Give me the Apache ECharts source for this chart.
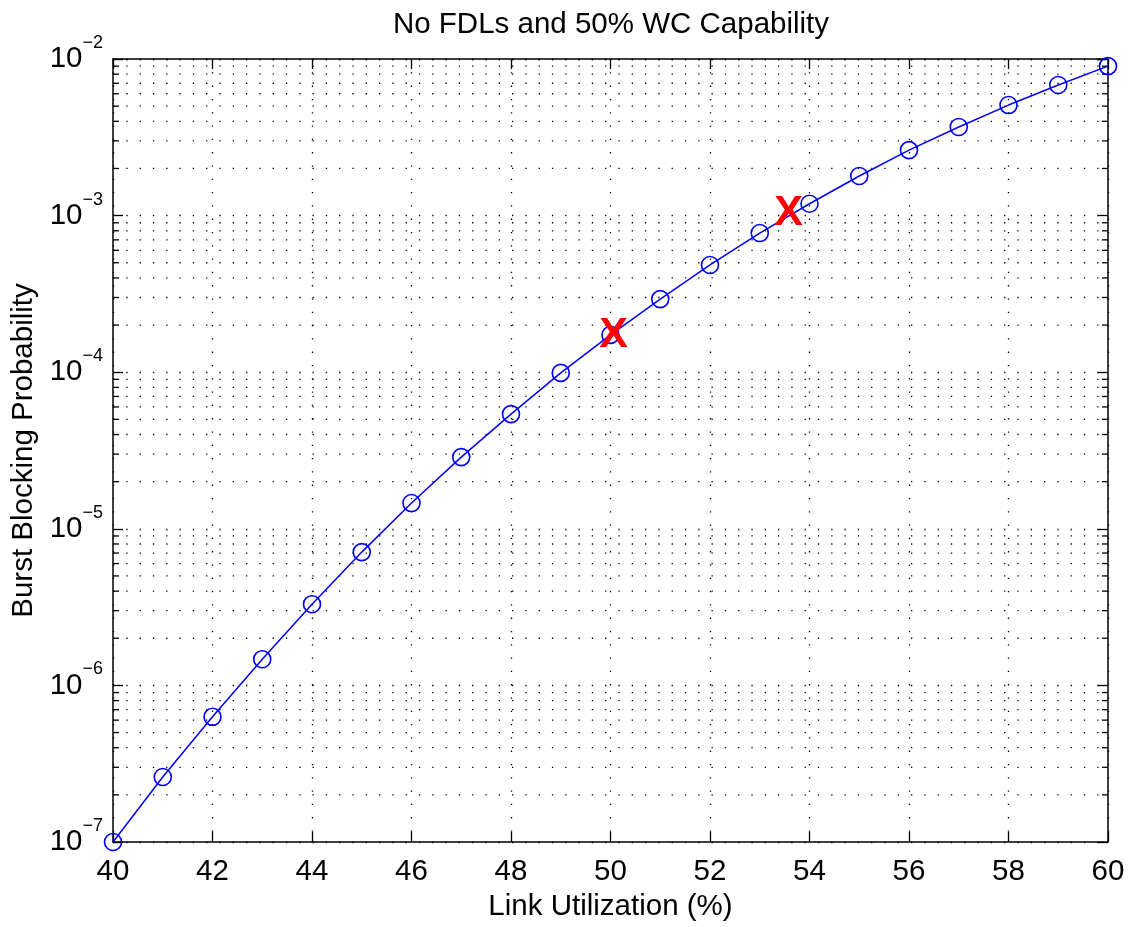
<!DOCTYPE html>
<html>
<head>
<meta charset="utf-8">
<script src="https://cdn.jsdelivr.net/npm/echarts@6/dist/echarts.min.js"></script>
<style>
html,body{margin:0;padding:0;background:#fff;}
#chart{width:1140px;height:927px;}
</style>
</head>
<body>
<div id="chart"></div>
<script>
// ---- data ----
var titleText = 'No FDLs and 50% WC Capability';
var xName = 'Link Utilization (%)';
var yName = 'Burst Blocking Probability';
var utilization = [40,41,42,43,44,45,46,47,48,49,50,51,52,53,54,55,56,57,58,59,60];
var blocking = [1.0e-7, 2.6e-7, 6.3e-7, 1.47e-6, 3.3e-6, 7.1e-6, 1.46e-5, 2.87e-5, 5.4e-5, 9.9e-5,
                1.73e-4, 2.93e-4, 4.84e-4, 7.74e-4, 1.19e-3, 1.79e-3, 2.62e-3, 3.68e-3, 5.08e-3, 6.82e-3, 9.0e-3];
var markX = [50.06, 53.58];
var markY = [1.72e-4, 1.03e-3];
var X_MIN = 40, X_MAX = 60, X_STEP = 2;
var Y_MIN = 1e-7, Y_MAX = 1e-2;
var decadeExps = [-7,-6,-5,-4,-3];
var minorMult = [2,3,4,5,6,7,8,9];

// minor tick values for the log axis
var minorVals = [];
decadeExps.forEach(function(e){ minorMult.forEach(function(m){ minorVals.push([X_MIN, m*Math.pow(10,e)]); }); });

var FONT = '"Liberation Sans", Arial, Helvetica, sans-serif';
var FS = 29.5;
var DOT = [1.3, 12];

var chart = echarts.init(document.getElementById('chart'), null, {renderer:'canvas'});

function yLabel(v){
  var e = Math.round(Math.log10(v));
  return '{b|10}{s|' + (e < 0 ? '\u2212' + (-e) : e) + '}';
}

var option = {
  animation: false,
  backgroundColor: '#fff',
  title: {
    text: titleText,
    left: 611, top: 10, padding: 0,
    textAlign: 'center',
    textStyle: {fontFamily: FONT, fontSize: FS, fontWeight: 'normal', color: '#000'}
  },
  grid: {left: 113, right: 32, top: 59, bottom: 85, containLabel: false},
  xAxis: [{
    type: 'value', min: X_MIN, max: X_MAX, interval: X_STEP,
    position: 'bottom',
    name: xName, nameLocation: 'middle', nameGap: 48,
    nameTextStyle: {fontFamily: FONT, fontSize: FS, color: '#000'},
    axisLine: {lineStyle: {color: '#000', width: 1.5}},
    axisTick: {inside: true, length: 10, lineStyle: {color: '#000', width: 1.3}},
    axisLabel: {fontFamily: FONT, fontSize: FS, color: '#000', margin: 15},
    splitLine: {show: true, lineStyle: {color: '#000', width: 1.3, type: DOT}}
  },{
    type: 'value', min: X_MIN, max: X_MAX, interval: X_STEP,
    position: 'top',
    axisLine: {lineStyle: {color: '#000', width: 1.5}},
    axisTick: {inside: true, length: 10, lineStyle: {color: '#000', width: 1.3}},
    axisLabel: {show: false},
    splitLine: {show: false}
  }],
  yAxis: [{
    type: 'log', logBase: 10, min: Y_MIN, max: Y_MAX,
    position: 'left',
    name: yName, nameLocation: 'middle', nameGap: 74,
    nameTextStyle: {fontFamily: FONT, fontSize: FS, color: '#000'},
    axisLine: {show: true, lineStyle: {color: '#000', width: 1.5}},
    axisTick: {show: true, inside: true, length: 10, lineStyle: {color: '#000', width: 1.3}},
    axisLabel: {
      margin: 10,
      formatter: yLabel,
      rich: {
        b: {fontFamily: FONT, fontSize: FS, color: '#000', lineHeight: 30, verticalAlign: 'middle'},
        s: {fontFamily: FONT, fontSize: 18, color: '#000', lineHeight: 18, padding: [0,0,32,0], verticalAlign: 'middle'}
      }
    },
    splitLine: {show: true, lineStyle: {color: '#000', width: 1.3, type: DOT}}
  },{
    type: 'log', logBase: 10, min: Y_MIN, max: Y_MAX,
    position: 'right',
    axisLine: {show: true, lineStyle: {color: '#000', width: 1.5}},
    axisTick: {show: true, inside: true, length: 10, lineStyle: {color: '#000', width: 1.3}},
    axisLabel: {show: false},
    splitLine: {show: false}
  }],
  series: [{
    type: 'custom',
    xAxisIndex: 0, yAxisIndex: 0,
    silent: true, z: 1,
    data: minorVals,
    renderItem: function(params, api){
      var v = api.value(1);
      var p0 = api.coord([X_MIN, v]);
      var p1 = api.coord([X_MAX, v]);
      return {type: 'group', children: [
        {type: 'line', shape: {x1: p0[0], y1: p0[1], x2: p1[0], y2: p1[1]},
         style: {stroke: '#000', lineWidth: 1.3, lineDash: DOT}},
        {type: 'line', shape: {x1: p0[0], y1: p0[1], x2: p0[0] + 6, y2: p0[1]},
         style: {stroke: '#000', lineWidth: 1.3}},
        {type: 'line', shape: {x1: p1[0] - 6, y1: p1[1], x2: p1[0], y2: p1[1]},
         style: {stroke: '#000', lineWidth: 1.3}}
      ]};
    }
  },{
    type: 'line',
    xAxisIndex: 0, yAxisIndex: 0, z: 3,
    data: utilization.map(function(x, i){ return [x, blocking[i]]; }),
    symbol: 'circle', symbolSize: 17,
    showAllSymbol: true,
    lineStyle: {color: '#0000ff', width: 1.5},
    itemStyle: {color: 'rgba(0,0,0,0)', borderColor: '#0000ff', borderWidth: 1.6},
    emphasis: {disabled: true},
    clip: false
  },{
    type: 'scatter',
    xAxisIndex: 0, yAxisIndex: 0, z: 5,
    data: markX.map(function(x, i){ return [x, markY[i]]; }),
    symbolSize: 1,
    itemStyle: {color: 'rgba(0,0,0,0)', opacity: 1},
    label: {show: true, position: 'inside', formatter: 'X',
            fontFamily: FONT, fontSize: 43, fontWeight: 'bold', color: '#ff0000', opacity: 1},
    emphasis: {disabled: true},
    clip: false
  }]
};
chart.setOption(option);
</script>
</body>
</html>
